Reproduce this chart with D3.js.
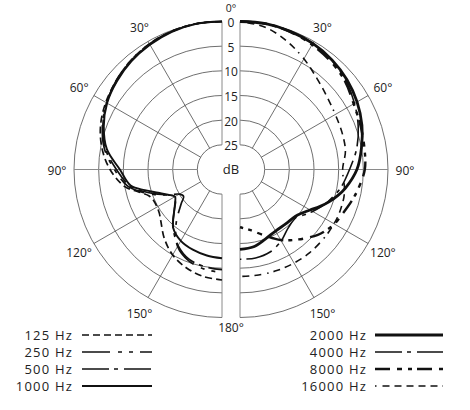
<!DOCTYPE html>
<html><head><meta charset="utf-8">
<script src="https://cdn.jsdelivr.net/npm/d3@7"></script>
<style>body{margin:0;background:#fff}svg{display:block}</style>
</head><body>
<svg id="chart" width="470" height="410"></svg>
<script>
// ---- data ----
const angles = [0,10,20,30,40,50,60,70,80,90,100,105,110,115,120,125,130,140,150,160,170,180];
const hz125  = [0,0,0.2,0.6,1.2,2,2.8,3.8,5.3,7.3,10,12.5,14.3,14.8,14.8,14.5,13.8,11.8,10,8.8,8,7.6];
const hz250  = [0,0,0.2,0.6,1.2,2,3,4.2,5.8,8.2,10.6,12.8,15.2,17.8,20,20.5,19.2,15.5,12,10.3,9.5,9.1];
const hz500  = [0,0,0.2,0.7,1.3,2.1,3,4.3,6,8.6,11,13.2,15.6,17.8,19,18.5,17.4,14.6,12.2,10.6,10,9.7];
const hz1000 = [0,0,0.3,0.8,1.4,2.2,3.1,4.5,6.3,9.3,11.2,13.8,16.2,17.9,19,18.4,17.4,14.6,13.3,12.7,12.3,12];
const hz2000 = [0,0,0.2,0.5,1,1.7,2.6,3.7,5,6.3,8.3,9.5,10.8,12.2,13.6,14.6,15.3,15.6,15.6,15,14.1,13.8];
const hz4000 = [0,0,0.2,0.6,1.1,2,3.2,4.5,6,7.8,9.2,10.1,11,12,13,14,15,14.7,13.3,12.2,11.8,11.8];
const hz8000 = [0,0,0.3,0.8,1.4,2.2,3.4,4,4.4,4.7,5.8,6.4,7,7.5,7.9,8.6,9.4,11.5,13.5,15.8,17.5,18.3];
const hz16000= [0,0.7,2.3,4.1,5.8,7,7.7,8,8.3,9.2,8.5,8.2,8.1,8,8,8,8,8,8.1,8.2,8.3,8.3];
const ringLevels = [0,5,10,15,20,25];
const spokeAngles = [30,60,90,120,150];
const leftNames = ["125 Hz","250 Hz","500 Hz","1000 Hz"];
const rightNames = ["2000 Hz","4000 Hz","8000 Hz","16000 Hz"];

// ---- styles ----
const styleOf = {
  "125 Hz":  {w:1.7, dash:"7,4"},
  "250 Hz":  {w:1.7, dash:"28,8,4,7,4,7"},
  "500 Hz":  {w:1.7, dash:"27,5,4,6"},
  "1000 Hz": {w:1.9, dash:null},
  "2000 Hz": {w:2.8, dash:null},
  "4000 Hz": {w:1.6, dash:"27,5,4,6"},
  "8000 Hz": {w:2.4, dash:"15,7,5,6,4,5"},
  "16000 Hz":{w:1.6, dash:"1.5,6,7,5,7,5,7,5,7,5,7,5"}
};
const leftData = [hz125, hz250, hz500, hz1000];
const rightData = [hz2000, hz4000, hz8000, hz16000];

const svg = d3.select("#chart");
const font = "'Open Sans', 'DejaVu Sans', sans-serif";
const cy = 169.5, cxL = 222, cxR = 240, midX = 231;
const r = d3.scaleLinear().domain([0,30]).range([148,0]);
const rad = d => d*Math.PI/180;

function drawHalf(cx, sign, data, names){
  const g = svg.append("g").attr("transform",`translate(${cx},${cy})`);
  ringLevels.forEach(l=>{
    const p = d3.path();
    p.moveTo(0,-r(l));
    p.arc(0,0,r(l),-Math.PI/2,Math.PI/2,sign<0);
    g.append("path").attr("d",p.toString()).attr("fill","none")
      .attr("stroke","#4a4a4a").attr("stroke-width",0.8);
  });
  spokeAngles.forEach(a=>{
    const s = Math.sin(rad(a))*sign, c = -Math.cos(rad(a));
    g.append("line")
      .attr("x1",s*r(25)).attr("y1",c*r(25))
      .attr("x2",s*r(0)).attr("y2",c*r(0))
      .attr("stroke", a===90 ? "#8a8a8a" : "#4a4a4a").attr("stroke-width", a===90?1:0.8);
  });
  [[-r(0),-r(25)],[r(25),r(0)]].forEach(([y1,y2])=>{
    g.append("line").attr("x1",0).attr("x2",0).attr("y1",y1).attr("y2",y2)
      .attr("stroke","#8a8a8a").attr("stroke-width",1);
  });
  const line = d3.lineRadial()
    .angle((d,i)=>sign*rad(angles[i]))
    .radius(d=>r(d))
    .curve(d3.curveCatmullRom.alpha(0.5));
  data.forEach((vals,k)=>{
    const st = styleOf[names[k]];
    g.append("path").attr("d",line(vals)).attr("fill","none")
      .attr("stroke","#111").attr("stroke-width",st.w)
      .attr("stroke-dasharray",st.dash)
      .attr("stroke-linejoin","round");
  });
  spokeAngles.forEach(a=>{
    const rr = r(0)+17;
    g.append("text")
      .attr("x",Math.sin(rad(a))*sign*rr).attr("y",-Math.cos(rad(a))*rr+1)
      .attr("dy","0.35em").attr("text-anchor","middle")
      .attr("font-family",font).attr("font-size",12).attr("fill","#222")
      .text(a+"°");
  });
}
drawHalf(cxL,-1,leftData,leftNames);
drawHalf(cxR, 1,rightData,rightNames);

ringLevels.forEach(l=>{
  svg.append("text").attr("x",midX).attr("y",cy-r(l)+1.2).attr("dy","0.36em")
    .attr("text-anchor","middle").attr("font-family",font).attr("font-size",12)
    .attr("fill","#222").text(l);
});
svg.append("text").attr("x",midX).attr("y",cy).attr("dy","0.36em")
  .attr("text-anchor","middle").attr("font-family",font).attr("font-size",13)
  .attr("fill","#222").text("dB");
svg.append("text").attr("x",midX).attr("y",cy-r(0)-13.5).attr("dy","0.36em")
  .attr("text-anchor","middle").attr("font-family",font).attr("font-size",10.5)
  .attr("fill","#222").text("0°");
svg.append("text").attr("x",midX).attr("y",cy+r(0)+10).attr("dy","0.36em")
  .attr("text-anchor","middle").attr("font-family",font).attr("font-size",12)
  .attr("fill","#222").text("180°");

const rowY = d3.scalePoint().domain([0,1,2,3]).range([335,386]);
function legend(names, textX, x1, x2){
  names.forEach((n,i)=>{
    const st = styleOf[n];
    svg.append("text").attr("x",textX).attr("y",rowY(i)).attr("dy","0.36em")
      .attr("text-anchor","end").attr("font-family",font).attr("font-size",13)
      .attr("letter-spacing",1.2).attr("fill","#222").text(n);
    svg.append("line").attr("x1",x1).attr("x2",x2).attr("y1",rowY(i)).attr("y2",rowY(i))
      .attr("stroke","#111").attr("stroke-width",st.w).attr("stroke-dasharray",st.dash);
  });
}
legend(leftNames, 73, 82, 152);
legend(rightNames, 367, 375, 443);
</script>
</body></html>
